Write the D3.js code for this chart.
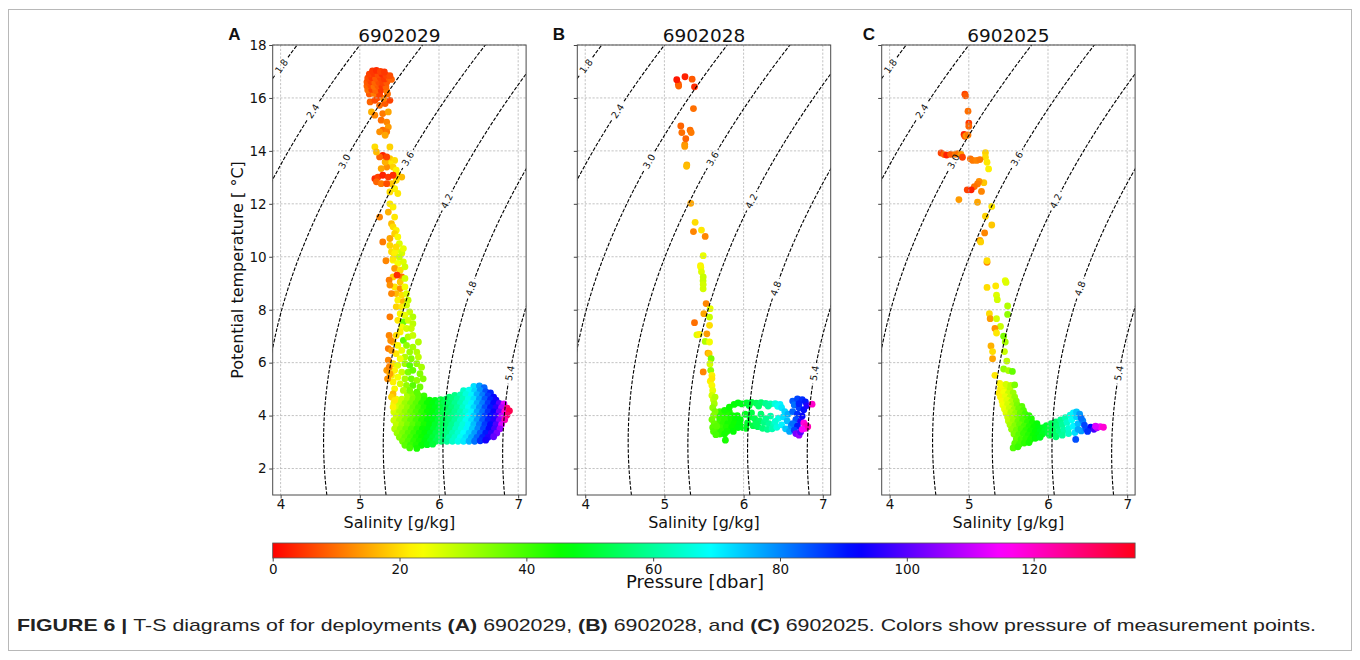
<!DOCTYPE html>
<html><head><meta charset="utf-8">
<script src="https://cdn.jsdelivr.net/npm/d3@7"></script>
<style>
body{margin:0;background:#fff;}
svg{display:block;font-family:"DejaVu Sans",sans-serif;}
</style>
</head><body>
<svg id="c" width="1360" height="660"></svg>
<script>
// ---------------- data ----------------
const panelIds = ["6902029", "6902028", "6902025"];
const panelLetters = ["A", "B", "C"];
const salinityTicks = [4, 5, 6, 7];
const tempTicks = [2, 4, 6, 8, 10, 12, 14, 16, 18];
const pressureTicks = [0, 20, 40, 60, 80, 100, 120];
const densityLevels = [1.8, 2.4, 3.0, 3.6, 4.2, 4.8, 5.4];
const densityLabelTemps = [17.2, 15.5, 13.6, 13.7, 12.1, 8.8, 5.6];
const salinityDomain = [3.9, 7.1];
const tempDomain = [1.0, 18.0];
const pressureMax = 136;

// [salinity g/kg, potential temperature degC, pressure dbar]
const tsA = [
// deep blob
[6.44,5.10,72],[6.51,5.12,78],[6.57,5.06,83],
[6.31,4.94,64],[6.38,4.96,68],[6.45,4.92,73],[6.52,4.95,79],[6.59,4.90,85],[6.65,4.86,89],
[5.60,4.78,31],[5.67,4.80,34],[5.74,4.76,38],[5.81,4.74,41],[6.13,4.70,56],[6.20,4.76,58],[6.27,4.78,62],[6.34,4.80,66],[6.41,4.77,70],[6.48,4.79,76],[6.55,4.76,81],[6.62,4.74,87],[6.69,4.70,92],
[5.46,4.62,25],[5.53,4.62,28],[5.60,4.62,31],[5.67,4.62,35],[5.74,4.62,38],[5.81,4.60,42],[5.88,4.58,45],[5.95,4.57,48],[6.02,4.60,51],[6.09,4.62,54],[6.16,4.62,57],[6.23,4.63,60],[6.30,4.62,63],[6.37,4.62,67],[6.44,4.62,72],[6.51,4.62,78],[6.58,4.62,84],[6.65,4.60,89],[6.72,4.58,94],
[5.43,4.46,25],[5.50,4.46,28],[5.57,4.46,32],[5.64,4.46,35],[5.71,4.46,38],[5.78,4.46,42],[5.85,4.46,45],[5.92,4.46,47],[5.99,4.46,50],[6.06,4.46,53],[6.13,4.46,56],[6.20,4.46,59],[6.27,4.46,62],[6.34,4.46,66],[6.41,4.46,70],[6.48,4.46,76],[6.55,4.46,81],[6.62,4.46,87],[6.69,4.46,92],[6.76,4.46,100],[6.82,4.44,112],
[5.46,4.30,27],[5.53,4.30,30],[5.60,4.30,33],[5.67,4.30,37],[5.74,4.30,40],[5.81,4.30,43],[5.88,4.30,46],[5.95,4.30,48],[6.02,4.30,51],[6.09,4.30,54],[6.16,4.30,57],[6.23,4.30,60],[6.30,4.30,64],[6.37,4.30,68],[6.44,4.30,73],[6.51,4.30,79],[6.58,4.30,85],[6.65,4.30,90],[6.72,4.30,96],[6.79,4.30,108],[6.86,4.28,127],
[5.43,4.14,27],[5.50,4.14,30],[5.57,4.14,33],[5.64,4.14,36],[5.71,4.14,39],[5.78,4.14,42],[5.85,4.14,45],[5.92,4.14,47],[5.99,4.14,50],[6.06,4.14,53],[6.13,4.14,56],[6.20,4.14,59],[6.27,4.14,62],[6.34,4.14,66],[6.41,4.14,70],[6.48,4.14,77],[6.55,4.14,82],[6.62,4.14,88],[6.69,4.14,93],[6.76,4.14,102],[6.83,4.14,120],[6.89,4.18,131],
[5.46,3.98,28],[5.53,3.98,31],[5.60,3.98,34],[5.67,3.98,37],[5.74,3.98,40],[5.81,3.98,43],[5.88,3.98,46],[5.95,3.98,49],[6.02,3.98,52],[6.09,3.98,55],[6.16,3.98,58],[6.23,3.98,61],[6.30,3.98,64],[6.37,3.98,69],[6.44,3.98,74],[6.51,3.98,80],[6.58,3.98,86],[6.65,3.98,91],[6.72,3.98,97],[6.79,3.98,110],[6.86,4.02,128],
[5.43,3.82,28],[5.50,3.82,31],[5.57,3.82,34],[5.64,3.82,37],[5.71,3.82,40],[5.78,3.82,43],[5.85,3.82,46],[5.92,3.82,48],[5.99,3.82,51],[6.06,3.82,54],[6.13,3.82,57],[6.20,3.82,60],[6.27,3.82,64],[6.34,3.82,68],[6.41,3.82,72],[6.48,3.82,78],[6.55,3.82,84],[6.62,3.82,89],[6.69,3.82,95],[6.76,3.82,104],[6.83,3.84,122],
[5.46,3.66,29],[5.53,3.66,32],[5.60,3.66,35],[5.67,3.66,38],[5.74,3.66,41],[5.81,3.66,44],[5.88,3.66,47],[5.95,3.66,50],[6.02,3.66,53],[6.09,3.66,56],[6.16,3.66,59],[6.23,3.66,63],[6.30,3.66,66],[6.37,3.66,70],[6.44,3.66,75],[6.51,3.66,81],[6.58,3.66,87],[6.65,3.66,92],[6.72,3.66,99],[6.79,3.66,112],
[5.44,3.50,30],[5.51,3.50,33],[5.58,3.50,36],[5.65,3.50,39],[5.72,3.50,42],[5.79,3.50,45],[5.86,3.50,47],[5.93,3.50,50],[6.00,3.50,53],[6.07,3.50,56],[6.14,3.50,59],[6.21,3.50,63],[6.28,3.50,66],[6.35,3.50,70],[6.42,3.50,74],[6.49,3.50,80],[6.56,3.50,86],[6.63,3.50,92],[6.70,3.50,98],[6.77,3.50,106],
[5.47,3.34,32],[5.54,3.34,35],[5.61,3.34,38],[5.68,3.34,41],[5.75,3.34,44],[5.82,3.34,46],[5.89,3.34,49],[5.96,3.34,52],[6.03,3.34,55],[6.10,3.34,58],[6.17,3.34,62],[6.24,3.34,65],[6.31,3.34,69],[6.38,3.34,73],[6.45,3.34,78],[6.52,3.34,84],[6.59,3.34,90],[6.66,3.34,96],[6.73,3.34,103],
[5.50,3.18,34],[5.57,3.18,37],[5.64,3.18,40],[5.71,3.18,43],[5.78,3.18,45],[5.85,3.18,48],[5.92,3.18,51],[5.99,3.18,54],[6.06,3.18,57],[6.13,3.18,61],[6.20,3.18,64],[6.27,3.18,68],[6.34,3.18,72],[6.41,3.18,77],[6.48,3.18,83],[6.55,3.18,89],[6.62,3.18,95],[6.69,3.20,101],
[5.54,3.03,36],[5.61,3.03,39],[5.68,3.03,42],[5.75,3.03,44],[5.82,3.03,47],[5.89,3.03,50],[5.96,3.03,53],[6.03,3.03,56],[6.10,3.03,60],[6.17,3.03,64],[6.24,3.03,67],[6.31,3.03,71],[6.38,3.03,76],[6.45,3.03,82],[6.52,3.05,88],[6.59,3.07,94],
[5.57,2.88,38],[5.64,2.88,41],[5.71,2.88,43],[5.78,2.88,46],[5.85,2.90,48],[5.92,2.92,51],
[5.63,2.78,40],[5.72,2.76,44],
// column 4.8-10.3 degC
[5.40,10.19,20],[5.46,10.25,25],[5.53,10.13,22],[5.44,10.06,18],
[5.42,9.87,22],[5.48,9.75,24],[5.55,9.81,26],[5.44,9.56,14],[5.51,9.49,20],[5.57,9.62,27],[5.53,9.24,10],[5.42,9.24,19],[5.51,9.05,18],[5.57,9.18,27],
[5.44,8.86,21],[5.51,8.80,13],[5.57,8.86,24],[5.46,8.61,17],[5.53,8.55,20],[5.59,8.61,26],[5.48,8.36,22],[5.55,8.30,16],[5.61,8.36,28],[5.46,8.11,19],[5.53,8.11,21],[5.59,8.17,27],
[5.63,7.92,28],[5.51,7.85,23],[5.57,7.79,25],[5.67,7.73,30],[5.48,7.60,21],[5.55,7.54,36],[5.61,7.60,27],[5.67,7.47,29],[5.53,7.35,24],[5.59,7.29,27],[5.65,7.29,28],[5.51,7.16,22],
[5.46,7.03,20],[5.55,6.84,38],[5.61,6.97,30],[5.67,7.03,28],[5.74,6.78,30],[5.42,6.78,17],[5.48,6.65,23],[5.59,6.65,33],[5.67,6.59,31],[5.53,6.46,25],[5.63,6.40,32],[5.72,6.40,30],[5.46,6.34,21],[5.57,6.21,30],[5.65,6.15,34],[5.74,6.21,29],[5.51,6.15,24],
[5.42,5.96,20],[5.48,5.90,26],[5.57,5.96,32],[5.63,5.90,38],[5.72,5.96,33],[5.78,5.83,31],[5.44,5.71,22],[5.53,5.64,28],[5.61,5.64,35],[5.67,5.71,37],[5.76,5.58,34],[5.40,5.52,21],[5.48,5.45,24],[5.57,5.39,31],[5.65,5.39,36],[5.72,5.33,33],[5.80,5.39,34],[5.42,5.27,22],[5.51,5.20,27],[5.59,5.14,33],[5.67,5.14,38],[5.76,5.08,36],[5.44,5.01,23],[5.55,4.95,30],[5.63,4.95,35],[5.72,4.89,38],
[5.33,9.85,12],[5.37,9.12,11],[5.38,8.93,13],[5.40,8.61,12],[5.38,7.73,11],[5.37,7.03,12],[5.39,6.84,13],[5.36,6.53,11],[5.40,6.46,14],[5.36,6.09,12],[5.34,5.71,14],[5.37,5.83,12],[5.38,5.58,15],[5.35,5.39,13],[5.42,4.82,17],[5.40,4.70,19],[5.44,4.57,21],[5.42,4.32,22],
[5.47,9.31,4],
// 10-12.5 degC
[5.38,12.00,21],[5.42,11.88,22],[5.36,11.69,16],[5.44,11.50,21],[5.25,11.50,12],[5.40,11.25,17],[5.42,11.13,20],[5.46,11.00,22],[5.44,10.87,19],[5.48,10.75,23],[5.38,10.69,15],[5.29,10.56,11],[5.50,10.50,26],[5.46,10.37,20],[5.53,10.18,27],[5.44,10.12,22],[5.50,9.99,28],[5.38,10.43,19],[5.55,10.31,25],[5.42,9.93,21],
// 12.4-13.9 degC
[5.38,13.71,18],[5.44,13.64,20],[5.38,13.52,21],[5.42,13.39,19],[5.46,13.27,22],[5.34,13.39,13],[5.27,13.33,15],[5.32,13.58,16],[5.48,13.08,21],[5.53,13.01,17],[5.46,12.89,20],[5.44,12.57,22],[5.38,12.45,20],[5.48,12.39,21],[5.40,12.76,18],
[5.29,13.83,3],[5.34,13.77,6],[5.25,13.77,9],[5.19,12.95,4],[5.23,13.01,6],[5.29,13.08,3],[5.36,13.01,5],[5.42,13.08,4],[5.21,12.83,9],[5.27,12.76,11],[5.34,12.76,7],
// 14-17 degC
[5.147,15.47,16],[5.19,15.35,12],[5.29,15.41,11],[5.36,15.47,15],[5.27,15.16,10],[5.34,15.09,12],[5.36,14.90,14],[5.29,14.78,10],[5.25,14.72,13],[5.34,14.72,11],[5.32,14.59,15],[5.19,14.15,20],[5.38,14.15,19],[5.21,13.96,17],
[5.13,15.85,9],[5.19,15.91,7],[5.25,15.72,10],[5.32,15.79,8],[5.38,15.91,6],[5.22,16.00,7],[5.30,15.98,12],
[5.12,16.15,8],[5.18,16.17,11],[5.25,16.13,6],[5.35,16.15,10],
[5.10,16.30,10],[5.15,16.32,6],[5.20,16.28,9],[5.27,16.30,5],[5.34,16.27,11],
[5.09,16.45,9],[5.14,16.47,7],[5.18,16.43,10],[5.23,16.46,8],[5.28,16.44,5],[5.33,16.42,9],
[5.09,16.60,8],[5.14,16.62,6],[5.19,16.58,9],[5.24,16.60,7],[5.29,16.57,6],[5.34,16.59,8],
[5.10,16.75,7],[5.15,16.77,5],[5.20,16.74,8],[5.26,16.76,6],[5.31,16.72,5],[5.37,16.74,8],[5.40,16.70,9],
[5.12,16.90,6],[5.18,16.92,5],[5.23,16.88,7],[5.28,16.90,4],[5.33,16.86,6],[5.38,16.84,7],
[5.16,17.02,5],[5.21,17.04,4],[5.26,17.00,6],[5.31,16.98,5]
];

const tsB = [
// deep part
[5.66,4.05,37],[5.70,4.15,40],[5.76,4.15,42],[5.82,4.15,44],[5.68,4.00,40],[5.74,4.00,42],[5.80,4.00,43],[5.86,4.00,45],[5.92,4.00,46],
[5.70,3.85,41],[5.76,3.85,42],[5.84,3.85,44],[5.90,3.85,46],[5.96,3.85,47],[5.68,3.70,40],[5.74,3.70,42],[5.80,3.70,44],[5.88,3.70,45],[5.95,3.70,47],
[5.70,3.55,41],[5.78,3.55,43],[5.85,3.55,45],[5.93,3.55,47],[5.99,3.55,48],[5.67,3.40,41],[5.72,3.40,42],[5.79,3.40,44],[5.87,3.40,46],[5.70,3.30,42],[5.76,3.30,44],
[5.70,4.08,42],[5.76,4.20,44],[5.82,4.32,45],[5.88,4.42,46],[5.93,4.48,47],[5.98,4.44,48],[5.77,3.07,44],
[6.04,4.48,50],[6.10,4.50,52],[6.16,4.47,54],[6.22,4.49,56],[6.28,4.46,59],[6.34,4.44,62],[6.40,4.45,66],[6.46,4.42,70],[6.07,4.38,51],[6.19,4.36,55],[6.31,4.36,60],[6.43,4.35,68],
[6.02,4.05,49],[6.08,3.95,51],[6.14,3.88,53],[6.20,3.80,55],[6.26,3.74,58],[6.32,3.70,60],[6.38,3.66,63],[6.05,3.72,50],[6.12,3.62,52],[6.18,3.58,54],[6.24,3.52,57],[6.30,3.48,59],[6.36,3.50,62],[6.42,3.56,66],[6.10,4.10,52],[6.22,4.05,56],[6.34,3.98,61],[6.44,3.90,67],[6.03,3.52,49],[6.16,3.70,54],[6.28,3.88,59],[6.40,3.78,65],
[6.48,4.30,71],[6.52,4.15,73],[6.50,3.95,72],[6.55,3.80,75],[6.48,3.65,70],[6.53,3.50,74],[6.58,3.40,77],[6.56,4.05,76],[6.60,3.62,79],
[6.62,4.55,84],[6.68,4.63,86],[6.74,4.60,88],[6.78,4.52,90],[6.64,4.40,82],[6.70,4.30,87],[6.76,4.22,91],[6.62,4.15,83],[6.68,4.05,88],[6.74,3.98,92],[6.66,3.85,85],[6.72,3.78,95],[6.62,3.70,82],[6.68,3.60,90],[6.64,3.45,86],[6.70,4.45,89],[6.80,4.38,95],
[6.66,3.32,103],[6.70,3.26,106],[6.72,3.38,100],
[6.865,4.43,120],[6.76,3.72,118],[6.79,3.62,121],[6.78,3.52,117],[6.81,3.58,122],[6.74,3.48,115],
// column
[5.58,5.30,22],[5.60,5.14,23],[5.61,4.95,25],[5.60,4.76,27],[5.62,4.60,29],[5.63,4.45,31],[5.61,4.30,33],[5.64,4.15,35],[5.62,4.00,34],[5.60,3.85,36],[5.63,3.70,37],[5.61,3.55,38],[5.62,3.40,39],[5.65,3.28,40],[5.64,4.70,30],[5.66,3.60,38],
// upper
[5.49,10.04,25],[5.456,9.66,22],[5.46,9.60,23],[5.468,9.43,26],[5.49,9.24,28],[5.488,9.09,28],[5.49,8.95,27],[5.489,8.79,27],[5.527,8.23,12],[5.498,7.85,15],[5.578,8.04,25],[5.57,7.72,28],[5.38,7.51,10],[5.57,7.41,20],[5.41,7.05,26],[5.44,7.07,22],[5.536,7.09,14],[5.515,6.80,30],[5.57,6.78,24],[5.55,6.36,15],[5.565,6.34,18],[5.59,6.15,35],[5.575,5.95,27],[5.49,5.65,12],[5.585,5.71,33],[5.60,5.52,22],[5.60,5.40,21],
[5.333,12.02,15],[5.388,11.30,20],[5.367,10.95,12],[5.468,11.01,21],[5.515,10.77,12],
[5.283,13.47,16],[5.28,13.42,17],[5.257,14.24,13],[5.257,14.17,14],[5.27,14.46,9],[5.325,14.78,10],[5.338,14.69,11],[5.207,14.94,9],[5.22,14.69,10],[5.367,15.60,10],
[5.177,16.52,7],[5.18,16.45,9],[5.35,16.71,8],[5.38,16.42,4],[5.156,16.69,2],[5.26,16.80,3]
];

const tsC = [
// deep part
[5.40,5.02,22],[5.46,5.00,26],[5.52,5.05,30],[5.38,4.85,21],[5.44,4.88,24],[5.50,4.84,28],[5.56,4.86,32],
[5.40,4.70,22],[5.46,4.72,25],[5.52,4.68,29],[5.58,4.70,33],[5.42,4.55,23],[5.48,4.58,26],[5.54,4.52,30],[5.60,4.55,34],
[5.43,4.40,24],[5.49,4.42,27],[5.55,4.38,31],[5.61,4.40,35],[5.67,4.35,38],[5.45,4.25,25],[5.51,4.27,28],[5.57,4.22,32],[5.63,4.25,36],[5.69,4.20,39],
[5.47,4.10,26],[5.53,4.12,30],[5.59,4.08,33],[5.65,4.10,37],[5.71,4.05,40],[5.76,4.00,42],
[5.49,3.95,28],[5.55,3.97,31],[5.61,3.92,35],[5.67,3.95,38],[5.73,3.90,41],[5.79,3.88,43],
[5.50,3.80,29],[5.56,3.82,32],[5.62,3.78,36],[5.68,3.80,39],[5.74,3.75,42],[5.80,3.72,44],[5.86,3.70,46],
[5.52,3.65,31],[5.58,3.62,34],[5.64,3.66,37],[5.70,3.60,40],[5.76,3.58,43],[5.82,3.56,45],[5.88,3.55,47],[5.94,3.54,49],
[5.54,3.48,33],[5.60,3.45,36],[5.66,3.50,39],[5.72,3.44,42],[5.78,3.42,44],[5.84,3.40,46],[5.90,3.40,48],[5.96,3.42,50],
[5.57,3.30,35],[5.63,3.28,38],[5.69,3.32,41],[5.75,3.26,43],[5.81,3.24,45],[5.87,3.26,47],[5.93,3.30,49],[6.00,3.34,51],
[5.60,3.12,37],[5.66,3.10,40],[5.72,3.12,42],[5.78,3.10,44],[5.84,3.14,46],[5.90,3.18,48],
[5.58,2.95,38],[5.64,2.92,40],[5.70,2.96,42],[5.76,2.98,44],[5.56,2.78,39],[5.62,2.82,41],
[5.98,3.62,50],[6.04,3.70,53],[6.10,3.76,56],[6.16,3.84,59],[6.22,3.92,62],[6.28,4.02,66],[6.32,4.10,70],[6.36,4.14,74],
[6.00,3.46,51],[6.06,3.52,54],[6.12,3.60,57],[6.18,3.66,60],[6.24,3.74,64],[6.30,3.84,68],[6.36,3.96,73],[6.40,4.05,78],
[6.02,3.26,52],[6.08,3.34,55],[6.14,3.40,58],[6.20,3.46,61],[6.26,3.52,65],[6.32,3.60,70],[6.38,3.70,75],[6.44,3.80,80],
[6.10,3.20,56],[6.18,3.26,60],[6.26,3.32,64],[6.34,3.36,72],[6.42,3.42,78],[6.48,3.50,84],[6.54,3.56,92],[6.46,3.64,86],[6.42,3.90,82],[6.38,3.48,77],
[6.50,3.40,88],[6.58,3.48,98],[6.62,3.54,108],[6.66,3.58,116],[6.70,3.56,119],[6.60,3.60,112],[6.35,3.10,85],
// middle
[5.23,9.79,12],[5.23,8.84,20],[5.34,8.90,21],[5.46,9.10,25],[5.47,9.03,26],[5.35,8.55,26],[5.36,8.38,27],[5.49,8.14,30],[5.49,7.82,33],[5.26,7.85,20],[5.27,7.66,14],[5.35,7.66,27],[5.40,7.37,28],[5.33,7.29,13],[5.35,7.12,21],[5.44,7.00,35],[5.46,6.78,31],[5.28,6.63,16],[5.45,6.42,28],[5.48,6.06,29],[5.30,6.42,20],[5.30,6.15,15],[5.44,5.76,33],[5.50,5.70,31],[5.55,5.67,37],[5.33,5.52,21],[5.39,5.22,22],[5.42,5.15,23],[5.47,5.18,27],[5.53,5.14,30],[5.58,5.16,35],
// upper
[5.23,9.85,20],[5.14,10.62,14],[5.15,10.56,19],[5.20,10.90,12],[5.29,11.20,18],[5.21,11.53,19],[5.29,11.90,21],[5.11,12.06,15],[4.875,12.16,14],
[5.19,12.80,18],[5.13,12.85,13],[5.16,12.47,12],[5.11,12.75,11],[5.07,12.65,10],[4.98,12.53,6],[5.03,12.53,3],
[5.21,13.93,19],[5.21,13.76,20],[5.23,13.57,21],[5.25,13.32,22],
[5.02,13.70,10],[5.05,13.64,11],[5.10,13.64,12],[5.14,13.67,11],
[4.65,13.92,6],[4.69,13.86,9],[4.72,13.84,3],[4.77,13.87,8],[4.83,13.87,11],[4.86,13.90,10],[4.90,13.88,14],[4.92,13.76,6],
[4.94,14.62,3],[4.95,14.55,8],[4.97,14.58,14],[4.99,14.60,11],[5.00,15.05,5],[5.00,14.93,9],[4.99,15.50,10],[4.95,16.14,6],[4.96,16.08,8]
];

const datasets = [tsA, tsB, tsC];

// --------------- layout / style ---------------
const panelLeft = [272.7, 577.3, 881.7];
const panelW = 253.4, plotTop = 45, plotBottom = 495;
const letterOffsets = [-44.5, -24.5, -19];
const hsvStops = [0, 0.15873, 0.174603, 0.333333, 0.349206, 0.507937, 0.666667, 0.68254, 0.84127, 0.857143, 1];
const hsvColors = ["rgb(255,0,0)","rgb(255,239,0)","rgb(247,255,0)","rgb(8,255,0)","rgb(0,255,16)","rgb(0,255,255)","rgb(0,16,255)","rgb(8,0,255)","rgb(247,0,255)","rgb(255,0,239)","rgb(255,0,24)"];
const color = d3.scaleLinear().domain(hsvStops.map(s => s * pressureMax)).range(hsvColors).clamp(true);

// density (sigma0) from the one-atmosphere seawater equation of state
function sigma0(SA, T) {
  const S = SA / 1.00472;
  const rw = 999.842594 + 6.793952e-2*T - 9.095290e-3*T*T + 1.001685e-4*T**3 - 1.120083e-6*T**4 + 6.536332e-9*T**5;
  const A = 0.824493 - 4.0899e-3*T + 7.6438e-5*T*T - 8.2467e-7*T**3 + 5.3875e-9*T**4;
  const B = -5.72466e-3 + 1.0227e-4*T - 1.6546e-6*T*T;
  return rw + A*S + B*Math.pow(S, 1.5) + 4.8314e-4*S*S - 1000;
}
function salinityAt(level, T) {
  let lo = 0, hi = 12;
  for (let k = 0; k < 60; k++) { const m = (lo + hi) / 2; if (sigma0(m, T) < level) lo = m; else hi = m; }
  return (lo + hi) / 2;
}

const svg = d3.select("#c");
const defs = svg.append("defs");
svg.append("rect").attr("x",0).attr("y",0).attr("width",1360).attr("height",660).attr("fill","#fff");
svg.append("rect").attr("x",8.5).attr("y",9.5).attr("width",1343).attr("height",641)
  .attr("fill","none").attr("stroke","#b8b8b8").attr("stroke-width",1);

const tGrid = d3.range(0.4, 18.6, 0.1);

datasets.forEach((data, i) => {
  const L = panelLeft[i];
  const x = d3.scaleLinear().domain(salinityDomain).range([L, L + panelW]);
  const y = d3.scaleLinear().domain(tempDomain).range([plotBottom, plotTop]);
  const g = svg.append("g");

  defs.append("clipPath").attr("id", "clip" + i).append("rect")
    .attr("x", L).attr("y", plotTop).attr("width", panelW).attr("height", plotBottom - plotTop);

  // scatter
  g.append("g").attr("clip-path", `url(#clip${i})`)
    .selectAll("circle").data(data).join("circle")
    .attr("cx", d => x(d[0])).attr("cy", d => y(d[1])).attr("r", 3.4)
    .attr("fill", d => color(d[2]));

  // grid
  const grid = g.append("g").attr("stroke", "#b4b4b4").attr("stroke-width", 0.8).attr("stroke-dasharray", "2.2,1.6");
  grid.selectAll("line.v").data(salinityTicks).join("line").attr("class","v")
    .attr("x1", d => x(d)).attr("x2", d => x(d)).attr("y1", plotTop).attr("y2", plotBottom);
  grid.selectAll("line.h").data(tempTicks).join("line").attr("class","h")
    .attr("x1", L).attr("x2", L + panelW).attr("y1", d => y(d)).attr("y2", d => y(d));

  // contour labels (measure first for mask)
  const labelG = g.append("g");
  const mask = defs.append("mask").attr("id", "mask" + i).attr("maskUnits", "userSpaceOnUse")
    .attr("x", 0).attr("y", 0).attr("width", 1360).attr("height", 660);
  mask.append("rect").attr("x", 0).attr("y", 0).attr("width", 1360).attr("height", 660).attr("fill", "#fff");

  densityLevels.forEach((lev, k) => {
    const T = densityLabelTemps[k];
    const px = x(salinityAt(lev, T)), py = y(T);
    const p1 = [x(salinityAt(lev, T - 0.3)), y(T - 0.3)], p2 = [x(salinityAt(lev, T + 0.3)), y(T + 0.3)];
    let ang = Math.atan2(p2[1] - p1[1], p2[0] - p1[0]) * 180 / Math.PI;
    if (ang < -90) ang += 180; if (ang > 90) ang -= 180;
    const t = labelG.append("text").attr("transform", `translate(${px},${py}) rotate(${ang})`)
      .attr("text-anchor", "middle").attr("dy", "0.35em").attr("font-size", 9.5).attr("fill", "#111")
      .text(d3.format(".1f")(lev));
    const w = t.node().getComputedTextLength();
    mask.append("rect").attr("x", -w/2 - 3).attr("y", -5.5).attr("width", w + 6).attr("height", 11)
      .attr("fill", "#000").attr("transform", `translate(${px},${py}) rotate(${ang})`);
  });

  // contour lines
  const line = d3.line().x(d => x(d[0])).y(d => y(d[1]));
  g.insert("g", () => labelG.node()).attr("clip-path", `url(#clip${i})`)
    .append("g").attr("mask", `url(#mask${i})`)
    .selectAll("path").data(densityLevels).join("path")
    .attr("d", lev => line(tGrid.map(T => [salinityAt(lev, T), T])))
    .attr("fill", "none").attr("stroke", "#000").attr("stroke-width", 1.1).attr("stroke-dasharray", "3.7,1.6");

  // axes
  const ax = g.append("g").attr("transform", `translate(0,${plotBottom})`)
    .call(d3.axisBottom(x).tickValues(salinityTicks).tickSize(3.5).tickPadding(1).tickFormat(d3.format("d")));
  const ay = g.append("g").attr("transform", `translate(${L},0)`)
    .call(d3.axisLeft(y).tickValues(tempTicks).tickSize(3.5).tickPadding(2.5).tickFormat(i === 0 ? d3.format("d") : () => ""));
  [ax, ay].forEach(a => {
    a.select(".domain").remove();
    a.selectAll("line").attr("stroke", "#444");
    a.selectAll("text").attr("font-family", "DejaVu Sans").attr("font-size", 13.5).attr("fill", "#111");
  });
  g.append("rect").attr("x", L).attr("y", plotTop).attr("width", panelW).attr("height", plotBottom - plotTop)
    .attr("fill", "none").attr("stroke", "#4a4a4a").attr("stroke-width", 1);

  // titles
  g.append("text").attr("x", L + panelW/2).attr("y", 41.5).attr("text-anchor", "middle")
    .attr("font-size", 18.5).attr("fill", "#111").text(panelIds[i]);
  g.append("text").attr("x", L + letterOffsets[i]).attr("y", 40).attr("font-family", "Liberation Sans, Arial, sans-serif")
    .attr("font-weight", "bold").attr("font-size", 17).attr("fill", "#111").text(panelLetters[i]);
  g.append("text").attr("x", L + panelW/2).attr("y", 528).attr("text-anchor", "middle")
    .attr("font-size", 16).attr("fill", "#111").text("Salinity [g/kg]");
  if (i === 0) {
    g.append("text").attr("transform", `translate(243,${(plotTop + plotBottom)/2}) rotate(-90)`)
      .attr("text-anchor", "middle").attr("font-size", 16).attr("fill", "#111").text("Potential temperature [ \u00b0C]");
  }
});

// colorbar
const cbX0 = panelLeft[0], cbX1 = panelLeft[2] + panelW, cbY = 543, cbH = 15;
const cx = d3.scaleLinear().domain([0, pressureMax]).range([cbX0, cbX1]);
const grad = defs.append("linearGradient").attr("id", "cbgrad").attr("x1", "0%").attr("x2", "100%").attr("y1", "0%").attr("y2", "0%");
grad.selectAll("stop").data(hsvStops).join("stop")
  .attr("offset", d => (d * 100) + "%").attr("stop-color", (d, k) => hsvColors[k]);
svg.append("rect").attr("x", cbX0).attr("y", cbY).attr("width", cbX1 - cbX0).attr("height", cbH)
  .attr("fill", "url(#cbgrad)").attr("stroke", "#555").attr("stroke-width", 0.8);
const cbAxis = svg.append("g").attr("transform", `translate(0,${cbY + cbH})`)
  .call(d3.axisBottom(cx).tickValues(pressureTicks).tickSize(3.5).tickPadding(3).tickFormat(d3.format("d")));
cbAxis.select(".domain").remove();
cbAxis.selectAll("line").attr("stroke", "#444");
cbAxis.selectAll("text").attr("font-family", "DejaVu Sans").attr("font-size", 13.5).attr("fill", "#111");
svg.append("text").attr("x", 695).attr("y", 588).attr("text-anchor", "middle")
  .attr("font-size", 18).attr("fill", "#111").text("Pressure [dbar]");

// caption
const cap = svg.append("text").attr("x", 17).attr("y", 631).attr("font-family", "Liberation Sans, Arial, sans-serif")
  .attr("font-size", 17).attr("fill", "#222").attr("textLength", 1299).attr("lengthAdjust", "spacingAndGlyphs");
[["FIGURE 6 | ", true], ["T-S diagrams of for deployments ", false], ["(A)", true], [" 6902029, ", false],
 ["(B)", true], [" 6902028, and ", false], ["(C)", true], [" 6902025. Colors show pressure of measurement points.", false]]
  .forEach(([s, b]) => cap.append("tspan").attr("font-weight", b ? "bold" : "normal").text(s));
</script>
</body></html>
